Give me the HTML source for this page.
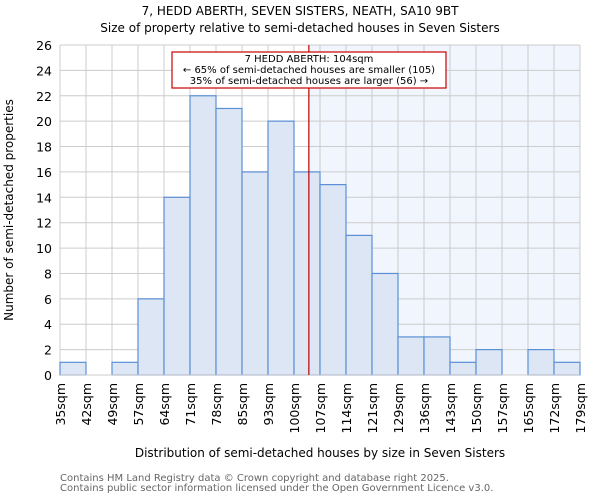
<!DOCTYPE html>
<html><head><meta charset="utf-8"><style>
body{margin:0;background:#fff;font-family:"DejaVu Sans","Liberation Sans",sans-serif;}
svg text{font-family:"DejaVu Sans","Liberation Sans",sans-serif;}
</style></head><body>
<svg id="c" width="600" height="500" xmlns="http://www.w3.org/2000/svg">
<text x="300" y="15" text-anchor="middle" font-size="12">7, HEDD ABERTH, SEVEN SISTERS, NEATH, SA10 9BT</text>
<text x="300" y="32" text-anchor="middle" font-size="12">Size of property relative to semi-detached houses in Seven Sisters</text>
<g id="plot"></g>
<text x="320" y="457" text-anchor="middle" font-size="12">Distribution of semi-detached houses by size in Seven Sisters</text>
<text x="13" y="210" text-anchor="middle" font-size="12" transform="rotate(-90 13 210)">Number of semi-detached properties</text>
<text x="60" y="481" font-size="10" fill="#666">Contains HM Land Registry data © Crown copyright and database right 2025.</text>
<text x="60" y="491" font-size="10" fill="#666">Contains public sector information licensed under the Open Government Licence v3.0.</text>
</svg>
<script>
const binLabels=["35sqm","42sqm","49sqm","57sqm","64sqm","71sqm","78sqm","85sqm","93sqm","100sqm","107sqm","114sqm","121sqm","129sqm","136sqm","143sqm","150sqm","157sqm","165sqm","172sqm","179sqm"];
const counts=[1,0,1,6,14,22,21,16,20,16,15,11,8,3,3,1,2,0,2,1];
const yTicks=[0,2,4,6,8,10,12,14,16,18,20,22,24,26];
const markerValue=104;
const binEdges=[35,42,49,57,64,71,78,85,93,100,107,114,121,129,136,143,150,157,165,172,179];
const L=60,R=580,T=45,B=375,yMax=26;
const ns="http://www.w3.org/2000/svg";
const g=document.getElementById('plot');
const bw=(R-L)/counts.length;
const xi=i=>L+i*bw;
const y=v=>B-(B-T)*v/yMax;
function xv(v){for(let i=0;i<binEdges.length-1;i++){if(v<=binEdges[i+1])return xi(i)+bw*(v-binEdges[i])/(binEdges[i+1]-binEdges[i]);}return R;}
function mk(t,a){const e=document.createElementNS(ns,t);for(const k in a)e.setAttribute(k,a[k]);g.appendChild(e);return e;}
const mx=xv(markerValue);
let sh=mk('rect',{x:mx,y:T,width:R-mx,height:B-T,fill:'#f1f5fd'});


yTicks.forEach(v=>{
 let l=mk('line',{x1:L,x2:R,y1:y(v),y2:y(v),stroke:'#ccc','stroke-width':1});
 
 
 let t=mk('text',{x:L-8,y:y(v)+5,'text-anchor':'end','font-size':12.5});
 t.textContent=v;
 
 
});
binLabels.forEach((s,i)=>{
 let l=mk('line',{x1:xi(i),x2:xi(i),y1:T,y2:B,stroke:'#ccc','stroke-width':1});
 
 
 let t=mk('text',{x:0,y:0,'text-anchor':'end','font-size':12.5,transform:`translate(${xi(i)+5},${B+8}) rotate(-90)`});
 t.textContent=s;
 
 
});
counts.forEach((c,i)=>{
 if(c<=0)return;
 let r=mk('rect',{x:xi(i),y:y(c),width:bw,height:B-y(c),fill:'#dce6f4',stroke:'#5b8fd6','stroke-width':1.2});
 
 
});
let ax=mk('line',{x1:L,x2:R,y1:B,y2:B,stroke:'#ccc','stroke-width':1});


let ml=mk('line',{x1:mx,x2:mx,y1:T,y2:B,stroke:'#b00','stroke-width':1.2});


let box=mk('rect',{x:172,y:52,width:274,height:36,fill:'#fff',stroke:'#c00','stroke-width':1.2});


[["7 HEDD ABERTH: 104sqm",62],["← 65% of semi-detached houses are smaller (105)",73],["35% of semi-detached houses are larger (56) →",84]].forEach(([s,yy])=>{
 let t=mk('text',{x:309,y:yy,'text-anchor':'middle','font-size':10});
 t.textContent=s;
 
 
});
</script>
</body></html>
